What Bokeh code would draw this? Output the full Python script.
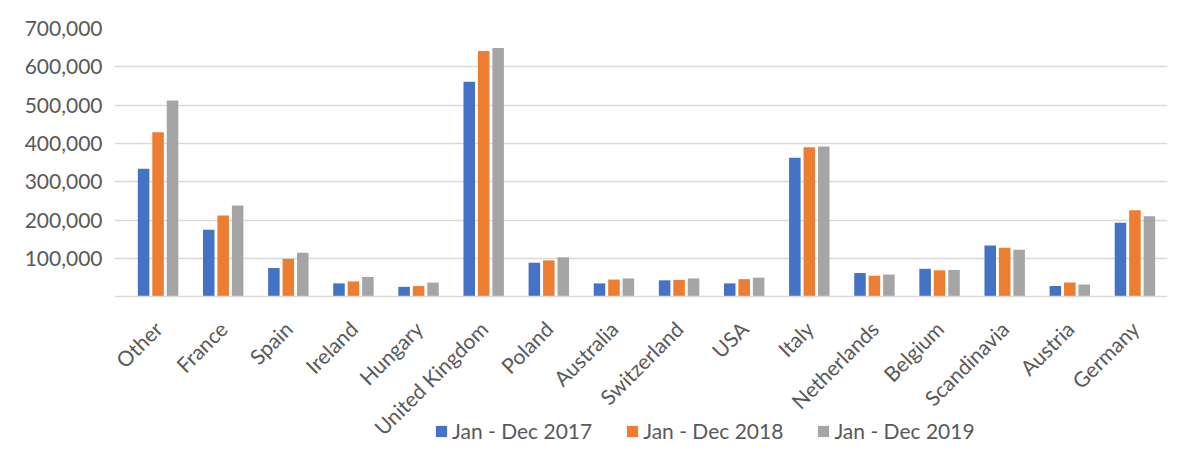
import math
from bokeh.plotting import figure
from bokeh.models import (Range1d, FixedTicker, Legend, LegendItem,
                          NumeralTickFormatter, ColumnDataSource)
from bokeh.transform import dodge
from bokeh.embed import file_html
from bokeh.resources import INLINE

categories = ["Other", "France", "Spain", "Ireland", "Hungary", "United Kingdom",
              "Poland", "Australia", "Switzerland", "USA", "Italy", "Netherlands",
              "Belgium", "Scandinavia", "Austria", "Germany"]
jan_dec_2017 = [334000, 175000, 75000, 35000, 26000, 561000, 89000, 35000,
                43000, 35000, 363000, 62000, 73000, 134000, 28000, 193000]
jan_dec_2018 = [429000, 212000, 99000, 40000, 28000, 641000, 95000, 45000,
                44000, 46000, 390000, 55000, 69000, 128000, 37000, 226000]
jan_dec_2019 = [512000, 238000, 115000, 52000, 37000, 649000, 103000, 48000,
                48000, 50000, 392000, 58000, 70000, 123000, 32000, 210000]
series_names = ["Jan - Dec 2017", "Jan - Dec 2018", "Jan - Dec 2019"]
series_colors = ["#4472C4", "#ED7D31", "#A5A5A5"]
y_ticks = [100000, 200000, 300000, 400000, 500000, 600000, 700000]

# category slots: each category occupies one unit, centred at i + 0.5
slot_centers = [i + 0.5 for i in range(len(categories))]
source = ColumnDataSource(dict(x=slot_centers, cat=categories, s2017=jan_dec_2017,
                               s2018=jan_dec_2018, s2019=jan_dec_2019))

FONT = "Lato"
TXT = "#595959"
GRID = "#D9D9D9"

# frame runs from y=28 to the bottom of the canvas; 0 sits at y~296,
# the room under it holds the category labels and the legend
p = figure(width=1189, height=449, output_backend="svg", toolbar_location=None,
           x_range=Range1d(-0.169, len(categories)),
           y_range=Range1d(-398400, 700000),
           min_border_left=114, min_border_right=22, min_border_top=28,
           min_border_bottom=0)
p.outline_line_color = None
p.background_fill_color = "white"
p.border_fill_color = "white"

offsets = [-0.222, 0.0, 0.222]
cols = ["s2017", "s2018", "s2019"]
renderers = []
for col, off, color in zip(cols, offsets, series_colors):
    r = p.vbar(x=dodge("x", off), top=col, width=0.177,
               source=source, fill_color=color, line_color=None)
    renderers.append(r)

# y axis
p.yaxis.ticker = FixedTicker(ticks=y_ticks)
p.yaxis.formatter = NumeralTickFormatter(format="0,0")
p.yaxis.axis_line_color = None
p.yaxis.major_tick_line_color = None
p.yaxis.major_tick_out = 0
p.yaxis.major_tick_in = 0
p.yaxis.minor_tick_line_color = None
p.yaxis.major_label_standoff = 12
p.yaxis.major_label_text_font = FONT
p.yaxis.major_label_text_font_size = "21px"
p.yaxis.major_label_text_color = TXT

p.ygrid.ticker = FixedTicker(ticks=y_ticks)
p.ygrid.grid_line_color = GRID
p.ygrid.grid_line_width = 1.5
p.xgrid.grid_line_color = None

# x axis pinned at y=0, category names as tick labels
p.xaxis.fixed_location = 0
p.xaxis.ticker = FixedTicker(ticks=slot_centers)
p.xaxis.major_label_overrides = {c: name for c, name in zip(slot_centers, categories)}
p.xaxis.axis_line_color = GRID
p.xaxis.axis_line_width = 1.5
p.xaxis.major_tick_line_color = None
p.xaxis.major_tick_out = 0
p.xaxis.major_tick_in = 0
p.xaxis.minor_tick_line_color = None
p.xaxis.major_label_orientation = math.pi / 4
p.xaxis.major_label_standoff = 28
p.xaxis.major_label_text_font = FONT
p.xaxis.major_label_text_font_size = "21px"
p.xaxis.major_label_text_color = TXT

legend = Legend(items=[LegendItem(label=n, renderers=[r]) for n, r in zip(series_names, renderers)],
                orientation="horizontal", location=(320, 6),
                glyph_width=14, glyph_height=14, label_standoff=4, spacing=33,
                padding=0, margin=0, border_line_color=None,
                background_fill_alpha=0,
                label_text_font=FONT, label_text_font_size="21px",
                label_text_color=TXT)
p.add_layout(legend, "center")

open("out.html", "w").write(file_html(p, INLINE))
